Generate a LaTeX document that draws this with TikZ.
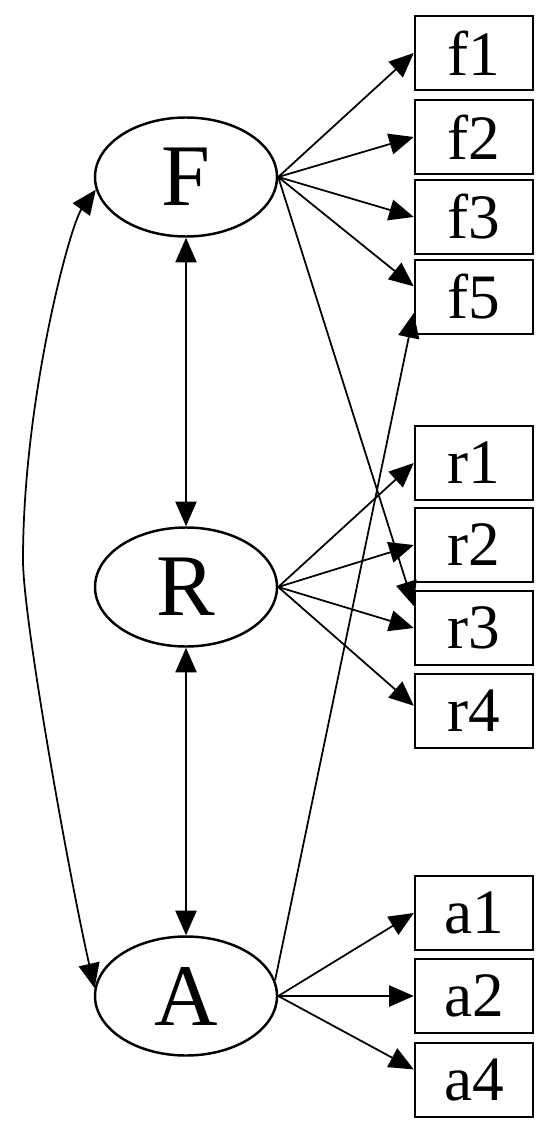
\documentclass[tikz,border=0pt]{standalone}
\usepackage{fontspec}
\setmainfont{Liberation Serif}
\usetikzlibrary{arrows.meta,shapes.geometric}

\begin{document}
\begin{tikzpicture}[scale=1,
    latent/.style={draw, ellipse, line width=1.4pt, minimum width=3.64cm,
      minimum height=2.38cm, inner sep=0pt, font=\fontsize{50}{60}\selectfont},
    item/.style={draw, rectangle, line width=1.4pt, minimum width=2.36cm,
      minimum height=1.48cm, inner sep=0pt, font=\fontsize{36}{43}\selectfont},
    load/.style={line width=1pt, -{Triangle[length=14pt,width=12pt]}},
    cov/.style={line width=1pt,
      {Triangle[length=14pt,width=12pt]}-{Triangle[length=14pt,width=12pt]}}]
      \useasboundingbox (0,0) rectangle (11.1,-22.9);

      % latent factors
      \node[latent] (F) at (3.72,-3.54) {F};
      \node[latent] (R) at (3.72,-11.74) {R};
      \node[latent] (A) at (3.72,-19.92) {A};

      % indicators
      \foreach \n/\y in {f1/-1.06, f2/-2.74, f3/-4.34, f5/-5.94,
          r1/-9.26, r2/-10.9, r3/-12.56, r4/-14.22,
          a1/-18.26, a2/-19.92, a4/-21.6}
        \node[item] (\n) at (9.48,\y) {\n};

      % loadings of F
      \foreach \n in {f1,f2,f3}
        \draw[load] (F.east) -- (\n.west);
      \draw[load] (F.east) -- (f5.170);
      \draw[load] (F.east) -- (r3.160);

      % loadings of R
      \foreach \n in {r1,r2,r3}
        \draw[load] (R.east) -- (\n.west);
      \draw[load] (R.east) -- (r4.175);

      % loadings of A
      \foreach \n in {a1,a2}
        \draw[load] (A.east) -- (\n.west);
      \draw[load] (A.east) -- (a4.170);
      \draw[load] (A.10) -- (f5.195);

      % covariances
      \draw[cov] (F.south) -- (R.north);
      \draw[cov] (R.south) -- (A.north);
      \coordinate (bend) at (0.46,-11.2);
      \draw[cov] (F.188) .. controls (1.4,-4.5) and (0.46,-8) .. (bend)
        .. controls (0.46,-12.4) and (1.4,-17.6) .. (A.175);
    \end{tikzpicture}
\end{document}
